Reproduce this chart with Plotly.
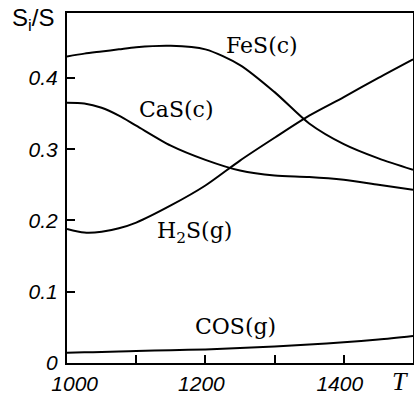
import plotly.graph_objects as go

T = [1000, 1025, 1050, 1075, 1100, 1150, 1200, 1250, 1300, 1350, 1400, 1450, 1500]
FeS = [0.430, 0.434, 0.437, 0.440, 0.443, 0.445, 0.440, 0.418, 0.380, 0.336, 0.307, 0.287, 0.271]
CaS = [0.365, 0.364, 0.358, 0.347, 0.333, 0.305, 0.285, 0.270, 0.263, 0.261, 0.257, 0.250, 0.243]
H2S = [0.188, 0.183, 0.184, 0.189, 0.197, 0.221, 0.249, 0.284, 0.316, 0.347, 0.373, 0.400, 0.426]
COS = [0.0145, 0.015, 0.0155, 0.016, 0.017, 0.018, 0.019, 0.021, 0.023, 0.026, 0.029, 0.033, 0.038]

x_tickvals = [1000, 1100, 1200, 1300, 1400]
x_ticktext = ["\u00a0\u00a0\u00a0\u00a01000", "", "1200", "", "1400"]
y_tickvals = [0, 0.1, 0.2, 0.3, 0.4]
y_ticktext = ["0", "0.1", "0.2", "0.3", "0.4"]

series = [("FeS", FeS), ("CaS", CaS), ("H2S", H2S), ("COS", COS)]
labels = [
    ("FeS(c)", 1282, 0.446),
    ("CaS(c)", 1158, 0.356),
    ("H<sub>2</sub>S(g)", 1184, 0.183),
    ("COS(g)", 1243, 0.051),
]

fig = go.Figure()
for name, vals in series:
    fig.add_trace(go.Scatter(x=T, y=vals, mode="lines", name=name,
                             line=dict(color="black", width=2, shape="spline", smoothing=0.8),
                             showlegend=False))

tickfont = dict(family="Liberation Sans Narrow, Liberation Sans, Arial, sans-serif",
                color="black", style="italic")

fig.update_layout(
    width=414, height=396,
    margin=dict(l=67, r=1, t=13, b=33, autoexpand=False),
    paper_bgcolor="white", plot_bgcolor="white",
    xaxis=dict(range=[1000, 1500], tickvals=x_tickvals, ticktext=x_ticktext,
               ticks="inside", ticklen=8, tickwidth=1.5, tickcolor="black",
               showline=True, linecolor="black", linewidth=2, mirror=True,
               showgrid=False, zeroline=False, automargin=False,
               tickfont=dict(size=21, **tickfont), ticklabelshift=-4, ticklabelstandoff=1),
    yaxis=dict(range=[0, 0.491], tickvals=y_tickvals, ticktext=y_ticktext,
               ticks="inside", ticklen=8, tickwidth=1.5, tickcolor="black",
               showline=True, linecolor="black", linewidth=2, mirror=True,
               showgrid=False, zeroline=False, automargin=False,
               tickfont=dict(size=21, **tickfont), ticklabelstandoff=3),
)

for text, x, y in labels:
    fig.add_annotation(x=x, y=y, xref="x", yref="y", text=text, showarrow=False,
                       font=dict(family="DejaVu Serif, Liberation Serif, serif", size=22, color="black"))

fig.add_annotation(x=-0.165, y=1.03, xref="paper", yref="paper", xanchor="left", yanchor="top",
                   text="S<sub>i</sub>/S", showarrow=False,
                   font=dict(family="Liberation Sans, Arial, sans-serif", size=24, color="black"))
fig.add_annotation(x=0.99, y=-0.1, xref="paper", yref="paper", text="T",
                   showarrow=False, font=dict(family="Liberation Serif, serif", size=26, color="black", style="italic"))

fig.write_html("out.html", config={"displayModeBar": False},
               post_script="document.body.style.margin='0';document.body.style.overflow='hidden';")
